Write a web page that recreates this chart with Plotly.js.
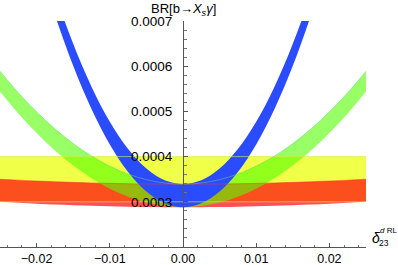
<!DOCTYPE html>
<html>
<head>
<meta charset="utf-8">
<script src="https://cdn.plot.ly/plotly-3.0.1.min.js"></script>
<style>html,body{margin:0;padding:0;background:#fff;}#chart{width:398px;height:265px;}</style>
</head>
<body>
<div id="chart"></div>
<script>
// x grid (delta_23^{d RL})
const xGrid = [-0.025,-0.0225,-0.02,-0.0175,-0.015,-0.0125,-0.01,-0.0075,-0.005,-0.0025,0,0.0025,0.005,0.0075,0.01,0.0125,0.015,0.0175,0.02,0.0225,0.025];
// green band
const greenLow  = [0.0005443,0.0004956,0.000452,0.0004136,0.0003803,0.0003521,0.000329,0.0003111,0.0002983,0.0002906,0.000288,0.0002906,0.0002983,0.0003111,0.000329,0.0003521,0.0003803,0.0004136,0.000452,0.0004956,0.0005443];
const greenHigh = [0.000589,0.0005415,0.000499,0.0004615,0.000429,0.0004015,0.000379,0.0003615,0.000349,0.0003415,0.000339,0.0003415,0.000349,0.0003615,0.000379,0.0004015,0.000429,0.0004615,0.000499,0.0005415,0.000589];
// red band
const redLow  = [0.0003,0.0002977,0.0002957,0.0002939,0.0002923,0.000291,0.0002899,0.0002891,0.0002885,0.0002881,0.000288,0.0002881,0.0002885,0.0002891,0.0002899,0.000291,0.0002923,0.0002939,0.0002957,0.0002977,0.0003];
const redHigh = [0.00035,0.0003479,0.000346,0.0003444,0.000343,0.0003418,0.0003408,0.00034,0.0003394,0.0003391,0.000339,0.0003391,0.0003394,0.00034,0.0003408,0.0003418,0.000343,0.0003444,0.000346,0.0003479,0.00035];
// blue band
const blueX    = [-0.02,-0.0175,-0.015,-0.0125,-0.01,-0.0075,-0.005,-0.0025,0,0.0025,0.005,0.0075,0.01,0.0125,0.015,0.0175,0.02];
const blueLow  = [0.000844,0.0007137,0.0006008,0.0005052,0.000427,0.0003662,0.0003228,0.0002967,0.000288,0.0002967,0.0003228,0.0003662,0.000427,0.0005052,0.0006008,0.0007137,0.000844];
const blueHigh = [0.000891,0.0007616,0.0006495,0.0005546,0.000477,0.0004166,0.0003735,0.0003476,0.000339,0.0003476,0.0003735,0.0004166,0.000477,0.0005546,0.0006495,0.0007616,0.000891];
// yellow band (experimental)
const yellowX    = [-0.025, 0.025];
const yellowLow  = [0.0003, 0.0003];
const yellowHigh = [0.0004, 0.0004];
// ticks
const xTicks = [-0.02,-0.01,0,0.01,0.02];
const xTickText = ['\u22120.02','\u22120.01','0.00','0.01','0.02'];
const yTicks = [0.0003,0.0004,0.0005,0.0006,0.0007];
const yTickText = ['0.0003','0.0004','0.0005','0.0006','0.0007'];

const FONT = 'Liberation Sans, Arial, sans-serif';
function band(x, lo, hi, color){
  return [
    {x:x, y:lo, type:'scatter', mode:'lines', line:{width:0, shape:'spline'}, hoverinfo:'skip', showlegend:false},
    {x:x, y:hi, type:'scatter', mode:'lines', line:{width:0, shape:'spline'}, fill:'tonexty', fillcolor:color, hoverinfo:'skip', showlegend:false}
  ];
}
function edge(x, y, color){
  return {x:x, y:y, type:'scatter', mode:'lines', line:{width:0.8, color:color, shape:'spline'}, hoverinfo:'skip', showlegend:false};
}
const data = [].concat(
  band(yellowX, yellowLow, yellowHigh, 'rgb(240,255,72)'),
  band(xGrid, redLow, redHigh, 'rgba(255,0,11,0.69)'),
  band(xGrid, greenLow, greenHigh, 'rgba(85,255,0,0.6)'),
  band(blueX, blueLow, blueHigh, 'rgb(43,75,255)'),
  [edge(yellowX, yellowHigh, 'rgba(210,235,80,0.8)'),
   edge(yellowX, yellowLow, 'rgba(210,235,80,0.8)'),
   edge(xGrid, redHigh, 'rgba(255,50,50,0.6)'),
   edge(xGrid, greenHigh, 'rgba(110,210,120,0.6)')]
);

const layout = {
  width:398, height:265,
  margin:{l:0, r:32, t:21, b:18, pad:0},
  paper_bgcolor:'#fff', plot_bgcolor:'#fff',
  font:{family:FONT, size:13, color:'#000'},
  showlegend:false,
  xaxis:{
    range:[-0.025,0.025], showgrid:false, zeroline:false,
    showline:true, linecolor:'#555', linewidth:1,
    tickmode:'array', tickvals:xTicks, ticktext:xTickText,
    ticks:'inside', ticklen:4, tickcolor:'#555', tickwidth:1,
    ticklabelstandoff:0,
    minor:{tickmode:'linear', tick0:0, dtick:0.002, ticks:'inside', ticklen:2.5, tickcolor:'#777', showgrid:false},
    tickfont:{family:FONT, size:12.5, color:'#000'}
  },
  xaxis2:{
    range:[-0.025,0.025], overlaying:'x', side:'top', anchor:'y',
    showline:true, linecolor:'#dedcf5', linewidth:1, showgrid:false, zeroline:false,
    ticks:'', showticklabels:false
  },
  yaxis:{
    range:[0.0002,0.0007], showgrid:false, zeroline:false,
    anchor:'free', position:0.5, side:'left',
    showline:true, linecolor:'#555', linewidth:1,
    tickmode:'array', tickvals:yTicks, ticktext:yTickText,
    ticks:'inside', ticklen:4, tickcolor:'#555', tickwidth:1,
    ticklabelstandoff:8,
    minor:{tickmode:'linear', tick0:0.0002, dtick:0.00002, ticks:'inside', ticklen:2.5, tickcolor:'#777', showgrid:false},
    tickfont:{family:FONT, size:13.5, color:'#000'}
  },
  annotations:[
    {xref:'paper', yref:'paper', x:0.5, y:1.0, yshift:12, xanchor:'center', yanchor:'middle', showarrow:false,
     text:'BR[b\u2192<i>X</i><sub><i>s</i></sub><i>\u03b3</i>]', font:{family:FONT, size:13, color:'#000'}},
    {xref:'paper', yref:'paper', x:1, xshift:4, y:0, yshift:9, xanchor:'left', yanchor:'middle', showarrow:false,
     text:'<i>\u03b4</i>', font:{family:FONT, size:14, color:'#000'}},
    {xref:'paper', yref:'paper', x:1, xshift:11, y:0, yshift:4, xanchor:'left', yanchor:'middle', showarrow:false,
     text:'23', font:{family:FONT, size:8.5, color:'#000'}},
    {xref:'paper', yref:'paper', x:1, xshift:12, y:0, yshift:17, xanchor:'left', yanchor:'middle', showarrow:false,
     text:'<i>d</i> RL', font:{family:FONT, size:8, color:'#000'}}
  ]
};
Plotly.newPlot('chart', data, layout, {staticPlot:true, displayModeBar:false});
</script>
</body>
</html>
